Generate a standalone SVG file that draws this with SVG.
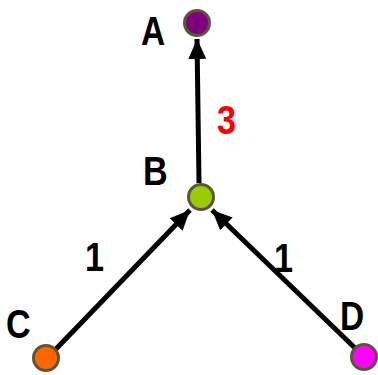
<svg xmlns="http://www.w3.org/2000/svg" width="378" height="375" viewBox="0 0 378 375">
<defs>
<style>
.node{stroke:#5e5437;stroke-width:3}
.lbl{font-family:"Liberation Sans",Arial,sans-serif;font-weight:bold;font-size:38px;fill:#000}
.red{fill:#ff0000}
.edge{stroke:#000;stroke-width:5;fill:none}
</style>
<marker id="arr" markerUnits="userSpaceOnUse" markerWidth="22" markerHeight="20" refX="20" refY="9" orient="auto" viewBox="0 0 22 18">
<path d="M0,0 L20,9 L0,18 Z" fill="#000"/>
</marker>
</defs>
<rect width="378" height="375" fill="#fff"/>
<g id="connectors">
<line class="edge" x1="199" y1="183" x2="197" y2="39" marker-end="url(#arr)"/>
<line class="edge" x1="56" y1="349" x2="190" y2="210" marker-end="url(#arr)"/>
<line class="edge" x1="355" y1="348" x2="212" y2="210" marker-end="url(#arr)"/>
<text class="lbl red" transform="translate(217,134) scale(0.9,1.08)">3</text>
<text class="lbl" transform="translate(85,271) scale(0.9,1.08)">1</text>
<text class="lbl" transform="translate(274,272) scale(0.9,1.08)">1</text>
</g>
<g id="A"><circle class="node" cx="197" cy="23" r="12.5" fill="#800080"/><text class="lbl" transform="translate(141,45) scale(0.88,1.08)">A</text></g>
<g id="B"><circle class="node" cx="201" cy="197" r="12.5" fill="#99cc00"/><text class="lbl" transform="translate(143,185) scale(0.9,1.08)">B</text></g>
<g id="C"><circle class="node" cx="46" cy="358" r="12.5" fill="#ff6600"/><text class="lbl" transform="translate(6,338) scale(0.9,1.08)">C</text></g>
<g id="D"><circle class="node" cx="364" cy="357" r="12.5" fill="#ff00ff"/><text class="lbl" transform="translate(340,330) scale(0.88,1.08)">D</text></g>
</svg>
